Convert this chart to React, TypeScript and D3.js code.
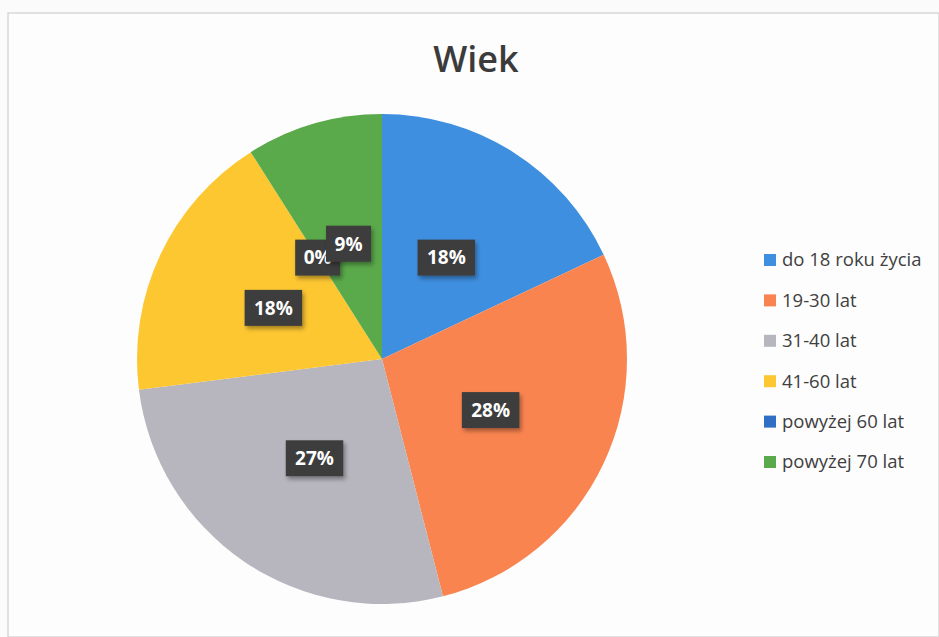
import React, { useEffect } from "react";
import * as d3 from "d3";

const categories = ["do 18 roku życia", "19-30 lat", "31-40 lat", "41-60 lat", "powyżej 60 lat", "powyżej 70 lat"];
const values = [18, 28, 27, 18, 0, 9];
const colors = ["#3f8fe0", "#fa8450", "#b7b5bd", "#fdc732", "#2f6fc4", "#5aa94a"];
const title = "Wiek";

const W = 939;
const H = 637;
const cx = 382;
const cy = 359;
const R = 245;

export default function App() {
  useEffect(() => {
    document.body.style.margin = "0";
  }, []);

  const total = d3.sum(values);
  const pie = d3.pie<number>().sort(null).value((d) => d);
  const arcs = pie(values);
  const arcGen = d3.arc<d3.PieArcDatum<number>>().innerRadius(0).outerRadius(R);
  const labelArc = d3.arc<d3.PieArcDatum<number>>().innerRadius(0).outerRadius(R * 0.98);

  const legendY = d3.scalePoint<number>().domain(d3.range(categories.length)).range([260, 462]);

  const font = "'Open Sans', 'Noto Sans', sans-serif";

  return (
    <svg width={W} height={H} viewBox={`0 0 ${W} ${H}`} style={{ display: "block" }}>
      <defs>
        <filter id="sh" x="-30%" y="-30%" width="160%" height="170%">
          <feDropShadow dx="2" dy="3" stdDeviation="2" floodColor="#000" floodOpacity="0.35" />
        </filter>
      </defs>
      <rect x={0} y={0} width={W} height={H} fill="#fbfbfb" />
      <rect x={8} y={13} width={W - 8} height={H - 13} fill="#fdfdfd" stroke="#d8d8d8" strokeWidth={1.5} />
      <text x={476} y={72} textAnchor="middle" fontFamily={font} fontSize={36} fontWeight={600} fill="#3b3b3b">
        {title}
      </text>
      <g transform={`translate(${cx},${cy})`}>
        {arcs.map((a, i) => (
          <path key={i} d={arcGen(a) || ""} fill={colors[i]} />
        ))}
        {arcs.map((a, i) => {
          const [x, y] = labelArc.centroid(a);
          const txt = `${Math.round((values[i] / total) * 100)}%`;
          const w = txt.length * 12.5 + 20;
          const h = 36;
          return (
            <g key={"l" + i} transform={`translate(${x},${y})`}>
              <rect x={-w / 2} y={-h / 2} width={w} height={h} fill="#3d3d3d" filter="url(#sh)" />
              <text textAnchor="middle" dy="0.36em" fontFamily={font} fontSize={19} fontWeight={700} fill="#ffffff">
                {txt}
              </text>
            </g>
          );
        })}
      </g>
      <g>
        {categories.map((c, i) => (
          <g key={c} transform={`translate(764,${legendY(i)})`}>
            <rect x={0} y={-6} width={12} height={12} fill={colors[i]} />
            <text x={18} dy="0.35em" fontFamily={font} fontSize={18.5} fill="#404040">
              {c}
            </text>
          </g>
        ))}
      </g>
    </svg>
  );
}
